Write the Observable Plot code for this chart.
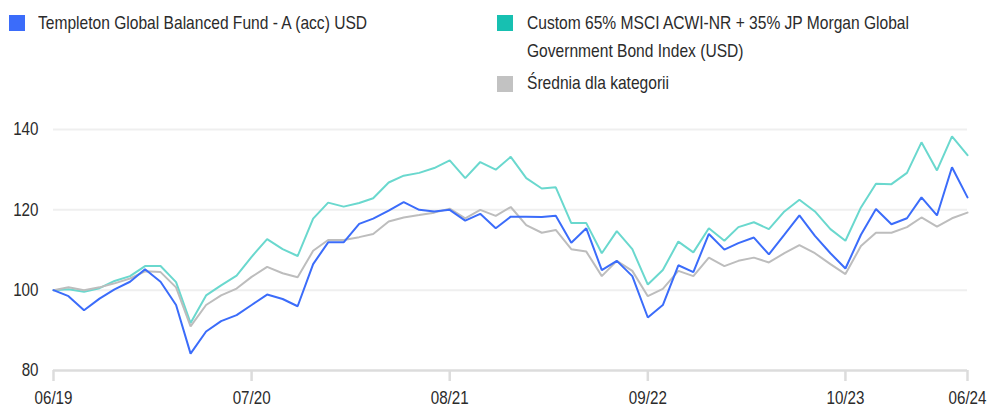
<!DOCTYPE html>
<html>
<head>
<meta charset="utf-8">
<script src="https://cdn.jsdelivr.net/npm/d3@7"></script>
<script src="https://cdn.jsdelivr.net/npm/@observablehq/plot@0.6"></script>
<style>
  body { margin: 0; background: #fff; width: 987px; overflow: hidden;
         font-family: "Liberation Sans", Arial, sans-serif; color: #2b2b2b; }
  #legend { position: relative; height: 100px; width: 987px; }
  .sq { position: absolute; width: 16px; height: 16px; }
  .lt { position: absolute; font-size: 19px; line-height: 28px; white-space: nowrap;
        transform: scaleX(0.82); transform-origin: 0 0; }
  #chart svg { display: block; }
</style>
</head>
<body>
<div id="legend"></div>
<div id="chart"></div>
<script>
const seriesNames = [
  "Templeton Global Balanced Fund - A (acc) USD",
  "Custom 65% MSCI ACWI-NR + 35% JP Morgan Global Government Bond Index (USD)",
  "Średnia dla kategorii"
];
const legendLines = [
  ["Templeton Global Balanced Fund - A (acc) USD"],
  ["Custom 65% MSCI ACWI-NR + 35% JP Morgan Global", "Government Bond Index (USD)"],
  ["Średnia dla kategorii"]
];
const seriesColors = ["#3b6cfa", "#6ad8ce", "#bdbdbd"];
const legendColors = ["#3b6cfa", "#17c0b1", "#c2c2c2"];

const startMonth = "2019-06-01";
const endMonth = "2024-07-01";
const tickLabels = ["06/19", "07/20", "08/21", "09/22", "10/23", "06/24"];
const tickMonths = ["2019-06-01", "2020-07-01", "2021-08-01", "2022-09-01", "2023-10-01", "2024-06-01"];
const yTicks = [80, 100, 120, 140];

const fund = [100, 98.5, 95.0, 97.9, 100.2, 102.1, 105.2, 102.1, 96.3, 84.2,
  89.7, 92.3, 93.8, 96.3, 98.9, 97.8, 96.0, 106.5, 111.9, 111.9,
  116.5, 117.8, 119.8, 121.9, 120.0, 119.6, 120.0, 117.3, 119.0, 115.4,
  118.3, 118.3, 118.2, 118.5, 111.8, 115.4, 105.0, 107.3, 103.5, 93.2,
  96.3, 106.2, 104.5, 114.0, 110.1, 111.7, 113.1, 108.9, 113.8, 118.6,
  113.5, 109.2, 105.4, 113.8, 120.2, 116.4, 117.9, 123.1, 118.6, 130.6, 123.1];
const benchmark = [100, 100.2, 99.6, 100.5, 102.3, 103.5, 106.0, 106.0, 102.0, 91.8,
  98.7, 101.2, 103.6, 108.3, 112.7, 110.2, 108.5, 117.8, 121.8, 120.8,
  121.7, 122.9, 126.8, 128.5, 129.2, 130.4, 132.3, 127.9, 131.9, 130.0,
  133.2, 127.9, 125.3, 125.6, 116.7, 116.7, 109.2, 114.7, 110.2, 101.4,
  105.0, 112.1, 109.4, 115.4, 112.3, 115.7, 116.9, 115.2, 119.6, 122.5,
  119.6, 115.2, 112.3, 120.6, 126.5, 126.4, 129.2, 136.8, 129.8, 138.3, 133.6];
const category = [100, 100.7, 100.0, 100.7, 101.7, 102.9, 104.7, 104.5, 100.7, 91.0,
  96.3, 98.7, 100.4, 103.3, 105.8, 104.2, 103.2, 109.8, 112.5, 112.5,
  113.2, 114.0, 117.1, 118.1, 118.7, 119.3, 120.3, 117.9, 120.0, 118.5,
  120.7, 116.2, 114.3, 115.0, 110.2, 109.6, 103.5, 107.3, 104.8, 98.5,
  100.3, 104.8, 103.5, 108.1, 106.0, 107.3, 108.1, 106.9, 109.2, 111.2,
  109.2, 106.5, 104.0, 111.0, 114.3, 114.3, 115.7, 118.1, 115.8, 117.9, 119.3];

// Legend
const legend = document.getElementById("legend");
const legendPos = [
  {sqx: 9, sqy: 15, tx: 38, ty: 9},
  {sqx: 497, sqy: 15, tx: 527, ty: 9},
  {sqx: 497, sqy: 76, tx: 527, ty: 69}
];
legendLines.forEach((lines, i) => {
  const p = legendPos[i];
  const sq = document.createElement("div");
  sq.className = "sq";
  sq.style.left = p.sqx + "px"; sq.style.top = p.sqy + "px";
  sq.style.background = legendColors[i];
  legend.appendChild(sq);
  const t = document.createElement("div");
  t.className = "lt";
  t.style.left = p.tx + "px"; t.style.top = p.ty + "px";
  lines.forEach((l, k) => {
    if (k) t.appendChild(document.createElement("br"));
    t.appendChild(document.createTextNode(l));
  });
  legend.appendChild(t);
});

// Data table
const months = d3.utcMonth.range(new Date(startMonth), new Date(endMonth));
const seriesValues = [fund, benchmark, category];
const drawOrder = [1, 2, 0];
const rows = [];
drawOrder.forEach(s => {
  seriesValues[s].forEach((v, i) => rows.push({date: months[i], value: v, series: seriesNames[s]}));
});
const tickDates = tickMonths.map(d => new Date(d));
const labelFor = new Map(tickDates.map((d, i) => [+d, tickLabels[i]]));

const plot = Plot.plot({
  width: 987,
  height: 309,
  marginTop: 29,
  marginBottom: 39,
  marginLeft: 53,
  marginRight: 20,
  style: {fontFamily: '"Liberation Sans", Arial, sans-serif', fontSize: "18.5px", color: "#2b2b2b", background: "#fff"},
  x: {type: "utc", domain: [months[0], months[months.length - 1]]},
  y: {domain: [80, 140]},
  color: {domain: seriesNames, range: seriesColors},
  marks: [
    Plot.gridY(yTicks.filter(t => t > 80), {stroke: "#efefef", strokeOpacity: 1, strokeWidth: 2}),
    Plot.ruleY([80], {stroke: "#dcdcdc", strokeWidth: 2.5}),
    Plot.axisY(yTicks, {tickSize: 0, tickPadding: 15, fontSize: 18.5, fill: "#2b2b2b", label: null}),
    Plot.axisX(tickDates, {tickSize: 11, tickPadding: 9, stroke: "#dcdcdc", strokeWidth: 2.5, fontSize: 18.5, fill: "#2b2b2b",
      label: null, tickFormat: d => labelFor.get(+d)}),
    Plot.line(rows, {x: "date", y: "value", z: "series", stroke: "series", strokeWidth: 2, strokeLinejoin: "miter"})
  ]
});
document.getElementById("chart").appendChild(plot);

// Condense tick-label glyphs horizontally (keeps their anchors)
plot.querySelectorAll("text").forEach(el => {
  const w = el.getComputedTextLength();
  if (w > 0) {
    el.setAttribute("textLength", (w * 0.82).toFixed(2));
    el.setAttribute("lengthAdjust", "spacingAndGlyphs");
  }
});
</script>
</body>
</html>
